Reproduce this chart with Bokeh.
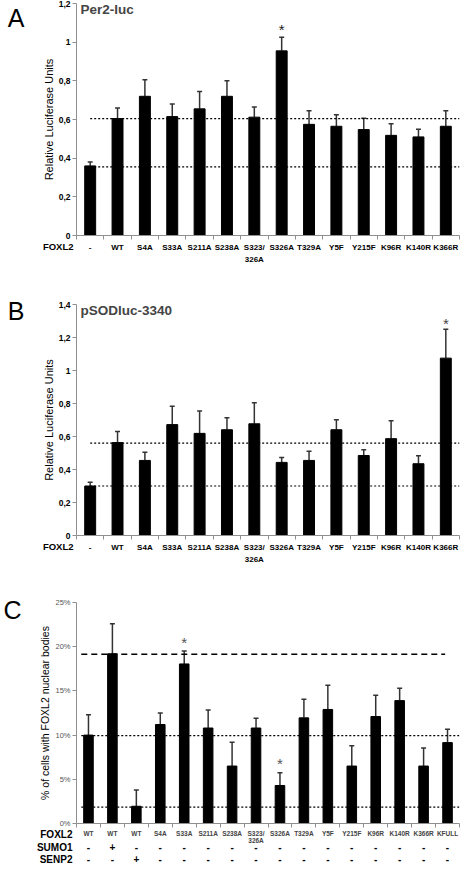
from bokeh.plotting import figure
from bokeh.models import (FixedTicker, LinearAxis, Whisker, TeeHead, Label,
                          ColumnDataSource, CustomJSTickFormatter, Range1d)
from bokeh.layouts import column
from bokeh.embed import file_html
from bokeh.resources import INLINE
from bokeh.core.properties import value

# ---------------- data ----------------
ab_categories = ["-", "WT", "S4A", "S33A", "S211A", "S238A", "S323/326A", "S326A",
                 "T329A", "Y5F", "Y215F", "K96R", "K140R", "K366R"]

a_title = "Per2-luc"
a_values = [0.36, 0.605, 0.72, 0.615, 0.655, 0.72, 0.612, 0.955, 0.575, 0.565, 0.548, 0.518, 0.51, 0.565]
a_errors = [0.02, 0.055, 0.085, 0.065, 0.09, 0.08, 0.053, 0.07, 0.07, 0.06, 0.059, 0.06, 0.04, 0.08]
a_ref_lines = [0.605, 0.355]
a_stars = ["S326A"]
a_yticks = [0, 0.2, 0.4, 0.6, 0.8, 1.0, 1.2]

b_title = "pSODluc-3340"
b_values = [0.30, 0.563, 0.455, 0.672, 0.619, 0.641, 0.677, 0.443, 0.455, 0.641, 0.485, 0.587, 0.435, 1.075]
b_errors = [0.023, 0.067, 0.05, 0.112, 0.136, 0.072, 0.127, 0.03, 0.056, 0.061, 0.034, 0.108, 0.048, 0.175]
b_ref_lines = [0.56, 0.30]
b_stars = ["K366R"]
b_yticks = [0, 0.2, 0.4, 0.6, 0.8, 1.0, 1.2, 1.4]

c_foxl2 = ["WT", "WT", "WT", "S4A", "S33A", "S211A", "S238A", "S323/326A", "S326A",
           "T329A", "Y5F", "Y215F", "K96R", "K140R", "K366R", "KFULL"]
c_sumo1 = ["-", "+", "-", "-", "-", "-", "-", "-", "-", "-", "-", "-", "-", "-", "-", "-"]
c_senp2 = ["-", "-", "+", "-", "-", "-", "-", "-", "-", "-", "-", "-", "-", "-", "-", "-"]
c_values = [10.0, 19.2, 1.95, 11.2, 18.05, 10.8, 6.5, 10.8, 4.3, 11.95, 12.9, 6.5, 12.1, 13.9, 6.5, 9.15]
c_errors = [2.3, 3.4, 1.85, 1.3, 1.45, 2.05, 2.7, 1.1, 1.45, 2.1, 2.75, 2.3, 2.4, 1.4, 2.05, 1.5]
c_dashed_lines = [19.15]
c_dotted_lines = [9.95, 1.85]
c_stars = ["S33A", "S326A"]
c_yticks = [0, 5, 10, 15, 20, 25]

row_headers = ["FOXL2", "SUMO1", "SENP2"]
panel_letters = ["A", "B", "C"]

FONT = "Liberation Sans"
GRAY = "#8f8f8f"
W = 460
LEFT = 66
RIGHT = 1


def make_fig(h, n, yr, top, bottom):
    p = figure(width=W, height=h, x_range=Range1d(-0.5, n - 0.5), y_range=yr,
               output_backend="svg", toolbar_location=None, x_axis_type=None, y_axis_type=None,
               min_border=0, min_border_left=LEFT, min_border_right=RIGHT,
               min_border_top=top, min_border_bottom=bottom)
    p.outline_line_color = None
    p.background_fill_color = "white"
    p.border_fill_color = "white"
    return p


def add_bars(p, cats, vals, errs, star_cats, star_color, star_off):
    idx = list(range(len(cats)))
    src = ColumnDataSource(dict(x=idx, top=vals,
                                up=[v + e for v, e in zip(vals, errs)]))
    p.vbar(x="x", top="top", width=0.4, source=src, fill_color="black", line_color="black",
           line_width=1)
    w = Whisker(base="x", lower="top", upper="up", source=src, line_color="#333333",
                line_width=1.5, lower_head=None,
                upper_head=TeeHead(size=5, line_color="#333333", line_width=1.5))
    p.add_layout(w)
    sx = [cats.index(c) for c in star_cats]
    sy = [vals[i] + errs[i] for i in sx]
    p.text(x=sx, y=sy, text=["*"] * len(sx), text_align="center", text_baseline="middle",
           y_offset=-star_off, text_font=value(FONT), text_font_size="15px",
           text_color=star_color)


def add_yaxis(p, ticks, code, label, label_size, tick_size, tick_bold, tick_color):
    ax = LinearAxis(ticker=FixedTicker(ticks=ticks), formatter=CustomJSTickFormatter(code=code))
    ax.axis_label = label
    ax.axis_label_text_font = FONT
    ax.axis_label_text_font_size = label_size
    ax.axis_label_text_font_style = "normal"
    ax.axis_label_text_color = "black"
    ax.axis_label_standoff = 1
    ax.major_label_text_font = FONT
    ax.major_label_text_font_size = tick_size
    ax.major_label_text_font_style = "bold" if tick_bold else "normal"
    ax.major_label_text_color = tick_color
    ax.major_label_standoff = 2
    ax.axis_line_color = GRAY
    ax.major_tick_line_color = GRAY
    ax.major_tick_out = 4
    ax.major_tick_in = 0
    ax.minor_tick_line_color = None
    p.add_layout(ax, "left")


def add_label_axis(p, ticks, labels, size, style, standoff):
    """A bare left axis used only to print texts to the left of the plot frame."""
    ax = LinearAxis(ticker=FixedTicker(ticks=ticks))
    ax.major_label_overrides = {t: lab for t, lab in zip(ticks, labels)}
    ax.major_label_text_font = FONT
    ax.major_label_text_font_size = size
    ax.major_label_text_font_style = style
    ax.major_label_text_color = "black"
    ax.major_label_standoff = standoff
    ax.major_label_text_align = "right"
    ax.axis_line_color = None
    ax.major_tick_line_color = None
    ax.minor_tick_line_color = None
    ax.major_tick_out = 0
    ax.major_tick_in = 0
    ax.minor_tick_out = 0
    ax.minor_tick_in = 0
    p.add_layout(ax, "left")


def add_xaxis(p, n):
    ax = LinearAxis(ticker=FixedTicker(ticks=[], minor_ticks=[i - 0.5 for i in range(n + 1)]))
    ax.axis_line_color = GRAY
    ax.major_tick_line_color = None
    ax.major_tick_out = 0
    ax.major_tick_in = 0
    ax.minor_tick_line_color = GRAY
    ax.minor_tick_out = 4
    ax.minor_tick_in = 0
    ax.major_label_text_font_size = "0px"
    p.add_layout(ax, "below")


def table_fig(h, n):
    return make_fig(h, n, Range1d(h, 0), 0, 0)


def put_row(t, labels, y, size, color, style="bold"):
    xs = [i for i, lab in enumerate(labels) if lab]
    ts = [labels[i] for i in xs]
    t.text(x=xs, y=[y] * len(xs), text=ts, text_align="center", text_baseline="middle",
           text_font=value(FONT), text_font_size=size, text_font_style=style, text_color=color)


def first_line(labels):
    return [lab.split("/")[0] + "/" if "/" in lab else lab for lab in labels]


def second_line(labels):
    return [lab.split("/")[1] if "/" in lab else "" for lab in labels]


DEC = "var v = Math.round(tick*10)/10; return v.toString().replace('.', ',');"
PCT = "return Math.round(tick) + '%';"

# ---------------- panel A ----------------
nA = len(ab_categories)
pA = make_fig(240, nA, Range1d(0, 1.2), 3, 5)
pA.segment(x0=[0] * len(a_ref_lines), y0=a_ref_lines, x1=[nA - 0.5] * len(a_ref_lines),
           y1=a_ref_lines, line_color="black", line_dash="2 2", line_width=1.2)
add_bars(pA, ab_categories, a_values, a_errors, a_stars, "#222222", 8)
add_yaxis(pA, a_yticks, DEC, "Relative Luciferase Units", "11px", "8.5px", True, "black")
add_label_axis(pA, [1.162], [panel_letters[0]], "25px", "normal", 15)
add_xaxis(pA, nA)
pA.add_layout(Label(x=-0.5, y=1.2, x_offset=4, y_offset=-13.6, text=a_title, text_font=FONT,
                    text_font_size="13.5px", text_font_style="bold"))
tA = table_fig(43, nA)
put_row(tA, first_line(ab_categories), 7.0, "8px", "black")
put_row(tA, second_line(ab_categories), 18.9, "8px", "black")
add_label_axis(tA, [6.0], [row_headers[0]], "9.5px", "bold", 3)

# ---------------- panel B ----------------
pB = make_fig(257, nA, Range1d(0, 1.4), 21, 5)
pB.segment(x0=[0] * len(b_ref_lines), y0=b_ref_lines, x1=[nA - 0.5] * len(b_ref_lines),
           y1=b_ref_lines, line_color="black", line_dash="2 2", line_width=1.2)
add_bars(pB, ab_categories, b_values, b_errors, b_stars, "#444444", 6)
add_yaxis(pB, b_yticks, DEC, "Relative Luciferase Units", "11px", "8.5px", True, "black")
add_label_axis(pB, [1.36], [panel_letters[1]], "25px", "normal", 15)
add_xaxis(pB, nA)
pB.add_layout(Label(x=-0.5, y=1.4, x_offset=4, y_offset=-13.8, text=b_title, text_font=FONT,
                    text_font_size="13.5px", text_font_style="bold"))
tB = table_fig(41, nA)
put_row(tB, first_line(ab_categories), 6.6, "8px", "black")
put_row(tB, second_line(ab_categories), 18.5, "8px", "black")
add_label_axis(tB, [5.8], [row_headers[0]], "9.5px", "bold", 3)

# ---------------- panel C ----------------
nC = len(c_foxl2)
pC = make_fig(247, nC, Range1d(0, 25), 21, 5)
pC.segment(x0=[-0.3] * len(c_dotted_lines), y0=c_dotted_lines,
           x1=[nC - 0.5] * len(c_dotted_lines), y1=c_dotted_lines,
           line_color="black", line_dash="2 2", line_width=1.2)
pC.segment(x0=[-0.3] * len(c_dashed_lines), y0=c_dashed_lines,
           x1=[nC - 1.1] * len(c_dashed_lines), y1=c_dashed_lines,
           line_color="black", line_dash="6 4", line_width=1.5)
add_bars(pC, c_foxl2, c_values, c_errors, c_stars, "#555555", 9)
add_yaxis(pC, c_yticks, PCT, "% of cells with FOXL2 nuclear bodies", "10.5px", "7.5px", False,
          "#555555")
add_label_axis(pC, [24.2], [panel_letters[2]], "25px", "normal", 15)
add_xaxis(pC, nC)
tC = table_fig(37, nC)
put_row(tC, first_line(c_foxl2), 5.3, "6.5px", "#444444")
put_row(tC, second_line(c_foxl2), 12.0, "6.5px", "#444444")
put_row(tC, c_sumo1, 18.9, "10px", "black")
put_row(tC, c_senp2, 30.6, "10px", "black")
add_label_axis(tC, [5.6, 18.9, 30.6], row_headers, "10px", "bold", 4)

layout = column(pA, tA, pB, tB, pC, tC)
open("out.html", "w").write(file_html(layout, INLINE))
